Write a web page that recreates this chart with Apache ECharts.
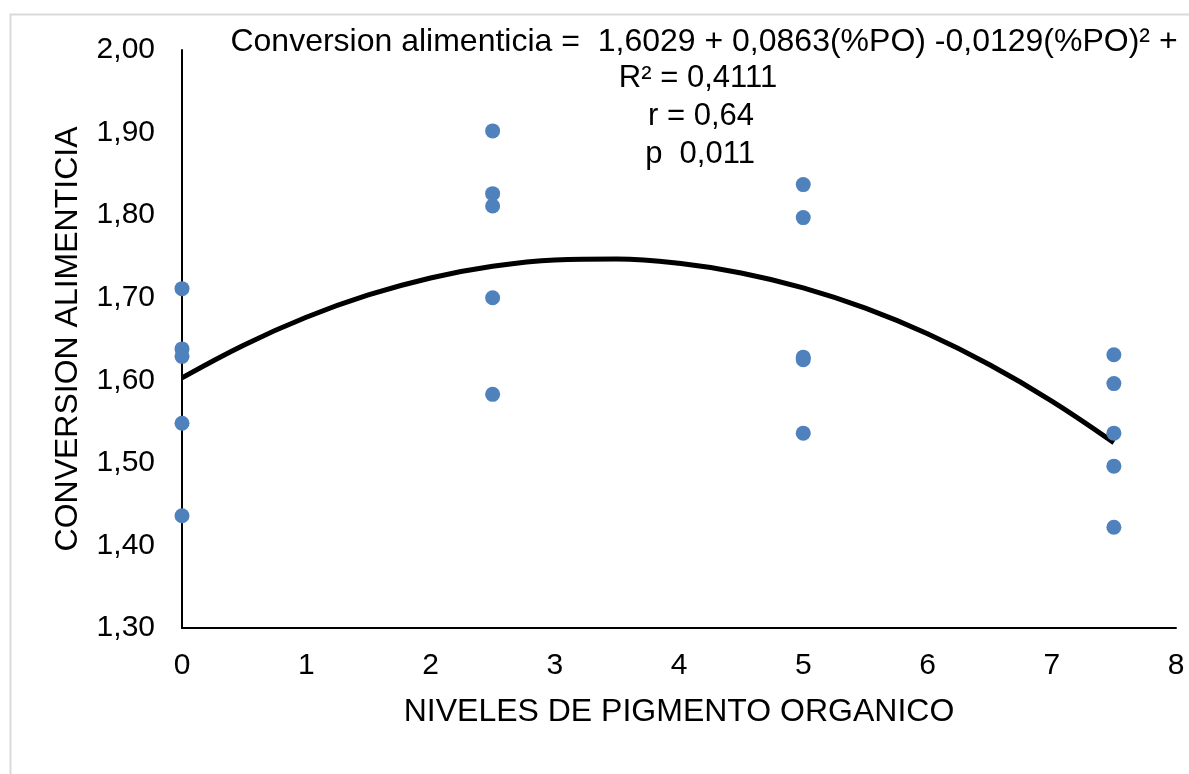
<!DOCTYPE html>
<html>
<head>
<meta charset="utf-8">
<script src="https://cdn.jsdelivr.net/npm/echarts@6/dist/echarts.min.js"></script>
<style>html,body{margin:0;padding:0;background:#fff}#c{width:1189px;height:774px}</style>
</head>
<body>
<div id="c"></div>
<script>
// Observed data (nivel de pigmento orgánico, conversión alimenticia)
var nivel0 = [1.711, 1.638, 1.629, 1.548, 1.436];
var nivel25 = [1.902, 1.826, 1.811, 1.700, 1.583];
var nivel5 = [1.837, 1.797, 1.628, 1.625, 1.536];
var nivel75 = [1.631, 1.596, 1.536, 1.496, 1.422];
var niveles = [0, 2.5, 5, 7.5];
// Polynomial trendline
var trendX = [0, 0.5, 1, 1.5, 2, 2.5, 3, 3.5, 4, 4.5, 5, 5.5, 6, 6.5, 7, 7.5];
var trendY = [1.6029, 1.6428, 1.6763, 1.7033, 1.7239, 1.7380, 1.7457, 1.7469, 1.7417, 1.7300, 1.7119, 1.6873, 1.6563, 1.6188, 1.5749, 1.5245];
var yTicks = [1.3, 1.4, 1.5, 1.6, 1.7, 1.8, 1.9, 2.0];
var annotLines = ['Conversion alimenticia =  1,6029 + 0,0863(%PO) -0,0129(%PO)² +', 'R² = 0,4111', 'r = 0,64', 'p  0,011'];

var groups = [nivel0, nivel25, nivel5, nivel75];
var scatter = [];
groups.forEach(function (g, i) { g.forEach(function (v) { scatter.push([niveles[i], v]); }); });
var trend = trendX.map(function (x, i) { return [x, trendY[i]]; });

var FONT = '"Liberation Sans", Arial, sans-serif';
function annot(text, x, y, size) {
  return {type: 'text', x: x, y: y, silent: true,
    style: {text: text, font: size + 'px ' + FONT, fill: '#000', textAlign: 'center', textVerticalAlign: 'middle'}};
}
var chart = echarts.init(document.getElementById('c'), null, {renderer: 'canvas'});
chart.setOption({
  backgroundColor: '#fff',
  animation: false,
  grid: {left: 182, right: 13, top: 50, bottom: 146, containLabel: false},
  xAxis: {
    type: 'value', min: 0, max: 8, interval: 1,
    name: 'NIVELES DE PIGMENTO ORGANICO', nameLocation: 'middle', nameGap: 68,
    nameTextStyle: {fontFamily: FONT, fontSize: 32, color: '#000'},
    axisLine: {show: true, lineStyle: {color: '#000', width: 2}},
    axisTick: {show: false}, splitLine: {show: false},
    axisLabel: {fontFamily: FONT, fontSize: 30, color: '#000', margin: 23}
  },
  yAxis: {
    type: 'value', min: 1.3, max: 2.0, interval: 0.1,
    name: 'CONVERSION ALIMENTICIA', nameLocation: 'middle', nameGap: 88,
    nameTextStyle: {fontFamily: FONT, fontSize: 32, color: '#000', padding: [0, 0, 10, 0]},
    axisLine: {show: true, lineStyle: {color: '#000', width: 2}},
    axisTick: {show: false}, splitLine: {show: false},
    axisLabel: {fontFamily: FONT, fontSize: 30, color: '#000', margin: 27,
      formatter: function (v) { return v.toFixed(2).replace('.', ','); }}
  },
  graphic: [
    {type: 'rect', shape: {x: 10.5, y: 14.5, width: 1200, height: 800}, style: {fill: 'none', stroke: '#d9d9d9', lineWidth: 2}, silent: true, z: -1},
    annot(annotLines[0], 704, 42, 32),
    annot(annotLines[1], 698, 78, 31),
    annot(annotLines[2], 701, 116, 31),
    annot(annotLines[3], 700, 154, 31)
  ],
  series: [
    {type: 'line', data: trend, smooth: 0.4, symbol: 'none', lineStyle: {color: '#000', width: 5}, z: 3},
    {type: 'scatter', data: scatter, symbol: 'circle', symbolSize: 15, itemStyle: {color: '#4F81BD', opacity: 1}, z: 4}
  ]
});
</script>
</body>
</html>
